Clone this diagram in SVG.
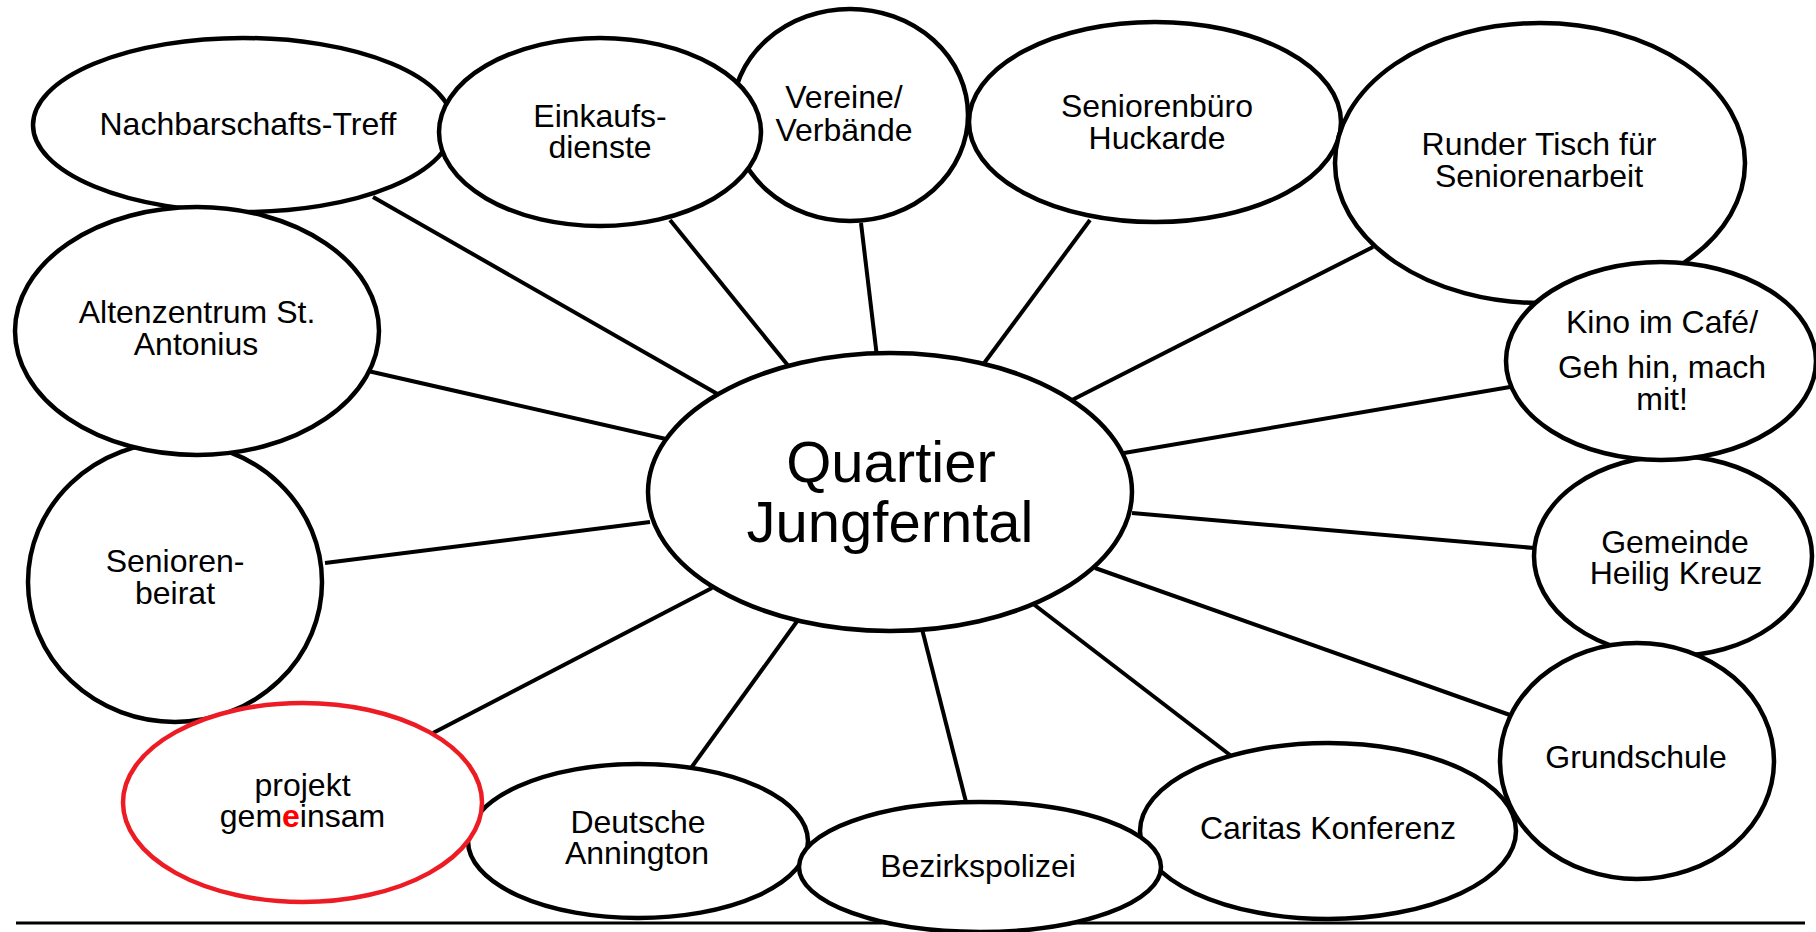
<svg xmlns="http://www.w3.org/2000/svg" width="1816" height="932" viewBox="0 0 1816 932">
<style>
.bg{fill:#fff}
.n ellipse{fill:#fff;stroke:#000;stroke-width:4.5}
.n.red ellipse{stroke:#ED1C24}
.t{font-family:"Liberation Sans",Arial,sans-serif;font-size:32px;fill:#000;text-anchor:middle}
.big{font-size:58px}
.hl{fill:#ff0000;font-weight:bold}
#connectors line{stroke:#000;stroke-width:4;stroke-linecap:butt}
</style>
<rect class="bg" x="0" y="0" width="1816" height="932"/>
<g id="connectors">
<line x1="373" y1="197" x2="721" y2="396"/>
<line x1="670" y1="220" x2="790" y2="368"/>
<line x1="861" y1="223" x2="877" y2="357"/>
<line x1="1090" y1="220" x2="982" y2="366"/>
<line x1="1373" y1="247" x2="1072" y2="400"/>
<line x1="1510" y1="387" x2="1124" y2="453"/>
<line x1="1534" y1="548" x2="1132" y2="513"/>
<line x1="1510" y1="715" x2="1095" y2="568"/>
<line x1="1230" y1="755" x2="1032" y2="603"/>
<line x1="966" y1="802" x2="922" y2="629"/>
<line x1="691" y1="768" x2="798" y2="620"/>
<line x1="433" y1="733" x2="712" y2="588"/>
<line x1="325" y1="563" x2="650" y2="522"/>
<line x1="368" y1="371" x2="666" y2="439"/>
<line x1="16" y1="923" x2="1805" y2="923" style="stroke-width:3"/>
</g>
<g id="n-nachbarschaft" class="n"><ellipse cx="243" cy="125" rx="210" ry="87"/><text class="t" x="248" y="135">Nachbarschafts-Treff</text></g>
<g id="n-vereine" class="n"><ellipse cx="850" cy="115" rx="118" ry="106"/><text class="t"><tspan x="844" y="108">Vereine/</tspan><tspan x="844" y="141">Verbände</tspan></text></g>
<g id="n-einkauf" class="n"><ellipse cx="600" cy="132" rx="161" ry="94"/><text class="t"><tspan x="600" y="127">Einkaufs-</tspan><tspan x="600" y="158">dienste</tspan></text></g>
<g id="n-seniorenbuero" class="n"><ellipse cx="1155" cy="122" rx="186" ry="100"/><text class="t"><tspan x="1157" y="117">Seniorenbüro</tspan><tspan x="1157" y="149">Huckarde</tspan></text></g>
<g id="n-rundertisch" class="n"><ellipse cx="1540" cy="163" rx="205" ry="140"/><text class="t"><tspan x="1539" y="155">Runder Tisch für</tspan><tspan x="1539" y="187">Seniorenarbeit</tspan></text></g>
<g id="n-gemeinde" class="n"><ellipse cx="1673" cy="556" rx="139" ry="100"/><text class="t"><tspan x="1675" y="553">Gemeinde</tspan><tspan x="1676" y="584">Heilig Kreuz</tspan></text></g>
<g id="n-kino" class="n"><ellipse cx="1661" cy="361" rx="155" ry="99"/><text class="t"><tspan x="1662" y="333">Kino im Café/</tspan><tspan x="1662" y="378">Geh hin, mach</tspan><tspan x="1662" y="410">mit!</tspan></text></g>
<g id="n-grundschule" class="n"><ellipse cx="1637" cy="761" rx="137" ry="118"/><text class="t" x="1636" y="768">Grundschule</text></g>
<g id="n-caritas" class="n"><ellipse cx="1328" cy="831" rx="188" ry="88"/><text class="t" x="1328" y="839">Caritas Konferenz</text></g>
<g id="n-annington" class="n"><ellipse cx="638" cy="841" rx="170" ry="77"/><text class="t"><tspan x="638" y="833">Deutsche</tspan><tspan x="637" y="864">Annington</tspan></text></g>
<g id="n-bezirkspolizei" class="n"><ellipse cx="980" cy="867" rx="181" ry="65"/><text class="t" x="978" y="877">Bezirkspolizei</text></g>
<g id="n-seniorenbeirat" class="n"><ellipse cx="175" cy="582" rx="147" ry="140"/><text class="t"><tspan x="175" y="572">Senioren-</tspan><tspan x="175" y="604">beirat</tspan></text></g>
<g id="n-altenzentrum" class="n"><ellipse cx="197" cy="331" rx="182" ry="124"/><text class="t"><tspan x="197" y="323">Altenzentrum St.</tspan><tspan x="196" y="355">Antonius</tspan></text></g>
<g id="n-projekt" class="n red"><ellipse cx="302.5" cy="802.5" rx="179.5" ry="99.5"/><text class="t"><tspan x="302.5" y="796">projekt</tspan><tspan x="302.5" y="827">gem<tspan class="hl">e</tspan>insam</tspan></text></g>
<g id="n-center" class="n"><ellipse cx="890" cy="492" rx="242" ry="139"/><text class="t big"><tspan x="891" y="482">Quartier</tspan><tspan x="890" y="542">Jungferntal</tspan></text></g>
</svg>
